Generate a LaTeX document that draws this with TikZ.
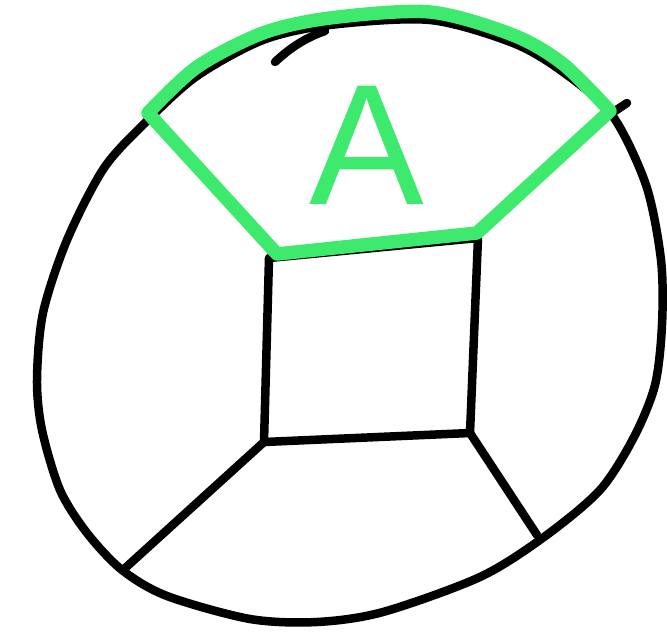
\documentclass[tikz,border=0pt]{standalone}
\usepackage{fontspec}
\newfontfamily\afont{Liberation Sans}
\definecolor{hlgreen}{RGB}{62,234,110}
\tikzset{
  ink/.style={line width=8.5pt, black, line cap=round, line join=round},
  hl/.style={line width=13.5pt, hlgreen, line cap=round, line join=round},
}
\begin{document}
\begin{tikzpicture}[x=1pt,y=-1pt]
\useasboundingbox (0,0) rectangle (667,632);
% inner square corners
\coordinate (tl) at (269,258);
\coordinate (tr) at (478,238);
\coordinate (br) at (470,433);
\coordinate (bl) at (264,442);
\coordinate (ol) at (123,570);
\coordinate (or) at (537,535);
% outer closed curve
\draw[ink] plot[smooth cycle, tension=0.5] coordinates {
  (147,121) (197,76) (263,40) (330,25) (430,20) (513,43) (563,72)
  (612,115) (646,185) (661,260) (662,325) (655,385) (634,437) (600,490)
  (544,537) (480,577) (383,612) (317,622) (250,619) (167,596) (122,570)
  (87,533) (60,490) (42,430) (37,380) (43,313) (67,240) (104,168)};
\draw[ink] (612,113) -- (627,103);
\draw[ink] (275,62) .. controls (290,48) and (305,38) .. (325,31);
% inner quadrilateral
\draw[ink] (tl) -- (tr) -- (br) -- (bl) -- cycle;
\draw[ink] (bl) -- (ol);
\draw[ink] (br) -- (or);
% green region
\coordinate (gl) at (148,113);
\coordinate (gb) at (477,233);
\coordinate (gt) at (277,254);
\draw[hl] plot[smooth, tension=0.5] coordinates {
  (148,113) (197,67) (263,33) (330,18) (430,12) (513,35)
  (563,64) (610,111)}
  -- (gb) -- (gt) -- cycle;
\node[hlgreen, font=\afont\fontsize{172}{172}\selectfont, inner sep=0pt, anchor=base] (a) at (367,204) {A};
\end{tikzpicture}
\end{document}
